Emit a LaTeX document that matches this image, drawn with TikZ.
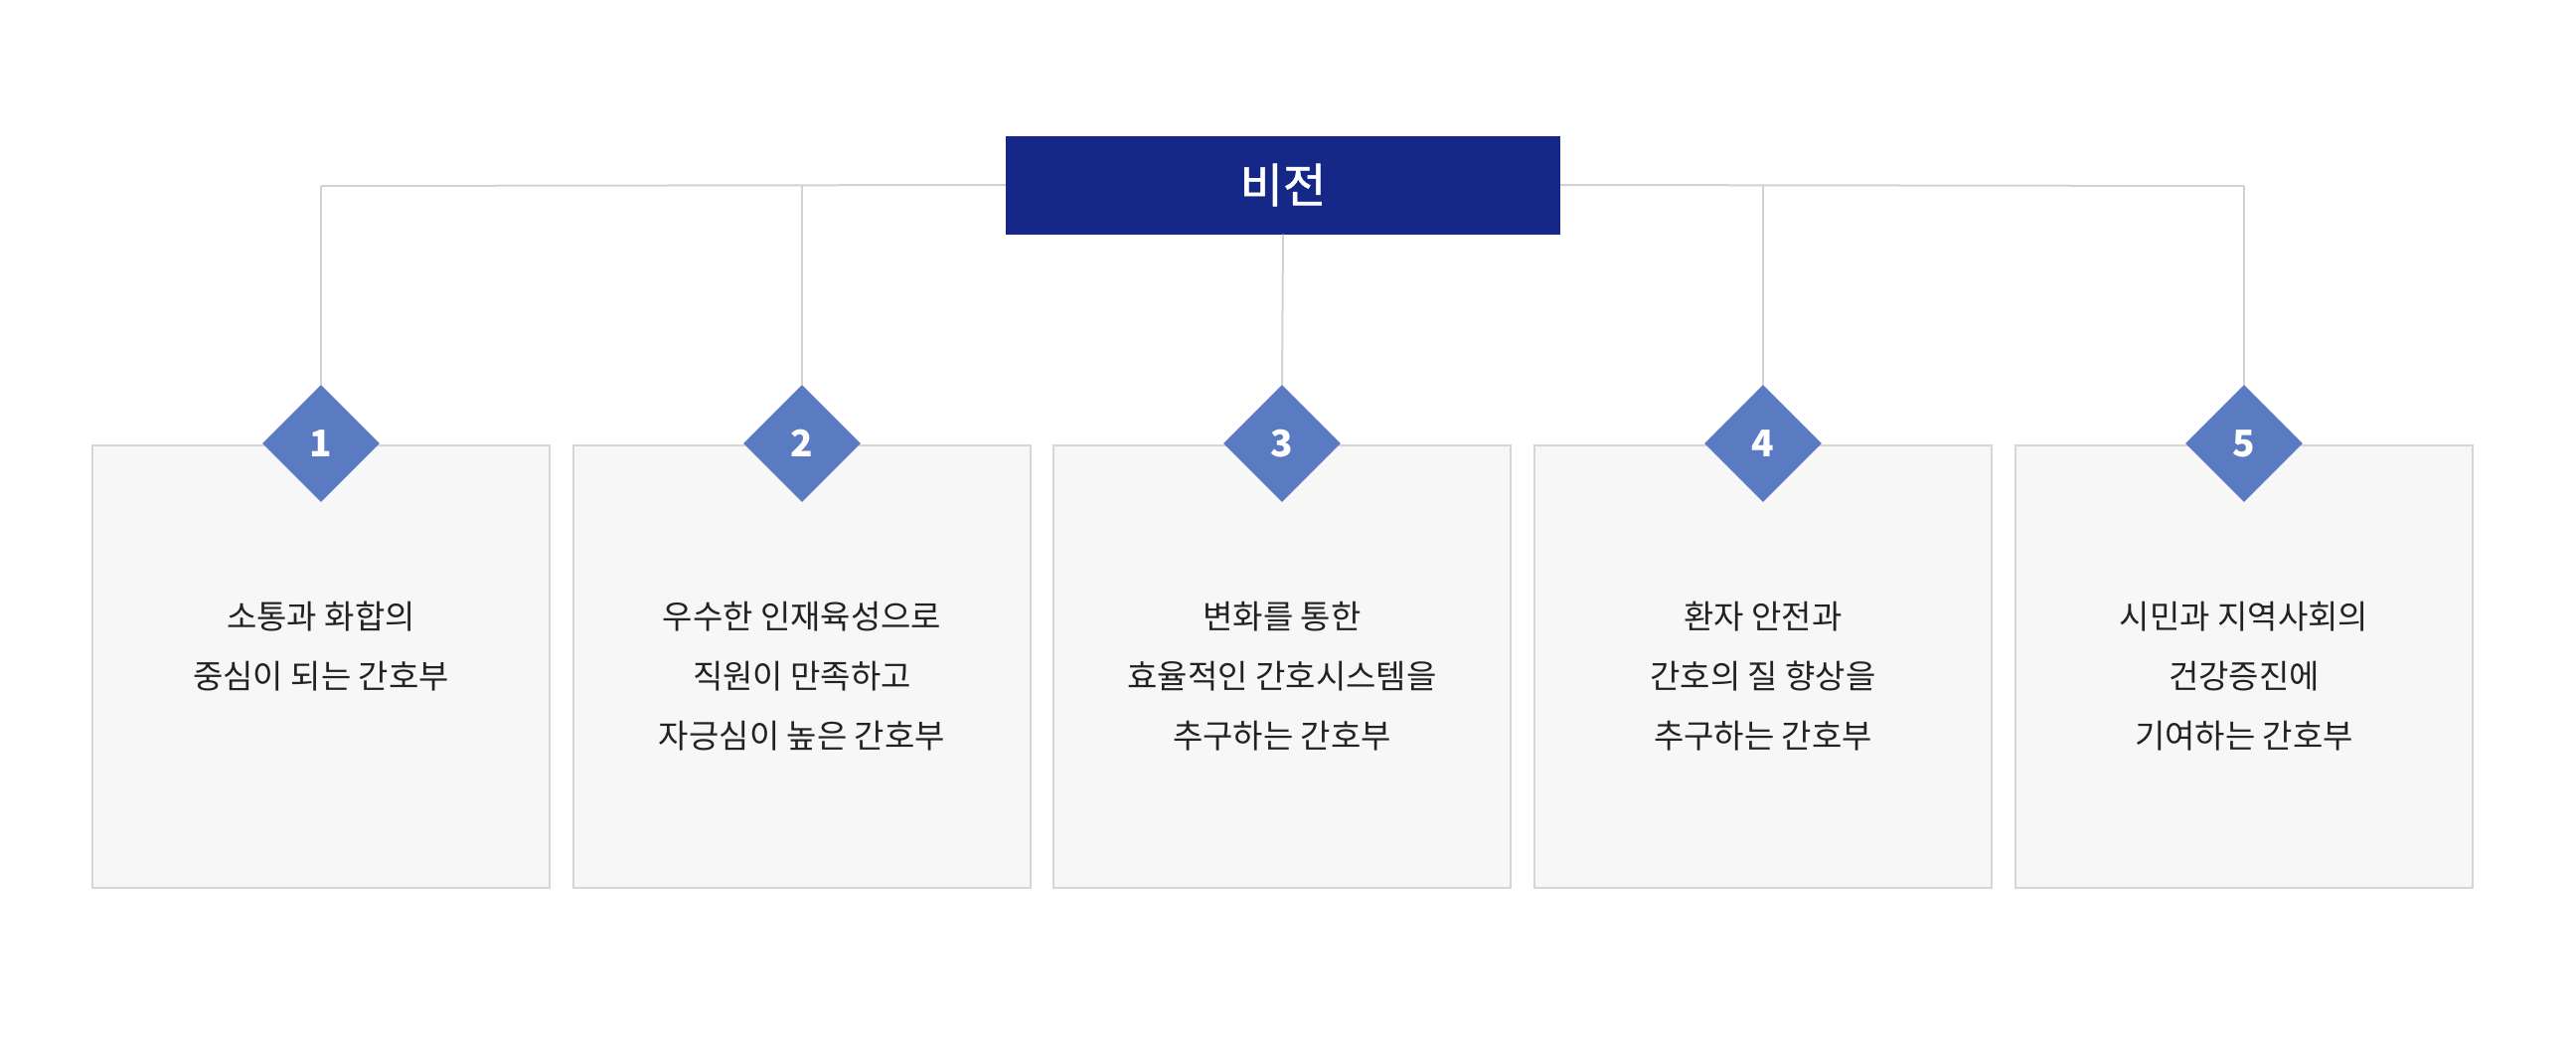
\documentclass[tikz,border=0pt]{standalone}
\usepackage{fontspec}
\setmainfont{Noto Sans CJK KR}
\newfontfamily\visfont[FakeBold=1.2]{Noto Sans CJK KR}
\usetikzlibrary{shapes.geometric}
\definecolor{navy}{HTML}{152888}
\definecolor{dia}{HTML}{5A7AC2}
\definecolor{boxfill}{HTML}{F7F7F7}
\definecolor{boxline}{HTML}{D6D6D6}
\definecolor{conn}{HTML}{D2D2D2}
\definecolor{txt}{HTML}{222222}
\tikzset{
  card/.style={draw=boxline, fill=boxfill, line width=2pt, minimum width=460pt, minimum height=445pt, inner sep=0pt, anchor=north},
  num/.style={diamond, aspect=1, fill=dia, draw=none, minimum width=118pt, minimum height=118pt, inner sep=0pt, text=white, font=\fontsize{37pt}{37pt}\selectfont\bfseries},
  conline/.style={draw=conn, line width=2pt},
  ln/.style={anchor=base, inner sep=0pt, text=txt, font=\fontsize{33pt}{33pt}\selectfont},
  vis/.style={fill=navy, minimum width=558pt, minimum height=99pt, inner sep=0pt, text=white, font=\fontsize{47pt}{47pt}\visfont}
}
\begin{document}
\begin{tikzpicture}[x=1pt,y=-1pt]
\useasboundingbox (0,0) rectangle (2592,1042);
% cards
\node[card] (b1) at (323,447) {};
\node[card] (b2) at (807,447) {};
\node[card] (b3) at (1290,447) {};
\node[card] (b4) at (1774,447) {};
\node[card] (b5) at (2258,447) {};
% vision
\node[vis] (v) at (1291,186) {비전};
% connector coordinates
\coordinate (h1) at (323,187);
\coordinate (h2) at (807,187);
\coordinate (h4) at (1774,187);
\coordinate (h5) at (2258,187);
% diamonds
\node[num] (d1) at (323,446) {1};
\node[num] (d2) at (807,446) {2};
\node[num] (d3) at (1290,446) {3};
\node[num] (d4) at (1774,446) {4};
\node[num] (d5) at (2258,446) {5};
% connectors
\draw[conline] (h1) -- (v.west);
\draw[conline] (v.east) -- (h5);
\draw[conline] (h1) -- (d1.north);
\draw[conline] (h2) -- (d2.north);
\draw[conline] (v.south) -- (d3.north);
\draw[conline] (h4) -- (d4.north);
\draw[conline] (h5) -- (d5.north);
% texts
\node[ln] (t1a) at (323,632) {소통과 화합의};
\node[ln] (t1b) at (323,692) {중심이 되는 간호부};
\node[ln] (t2a) at (807,632) {우수한 인재육성으로};
\node[ln] (t2b) at (807,692) {직원이 만족하고};
\node[ln] (t2c) at (807,752) {자긍심이 높은 간호부};
\node[ln] (t3a) at (1290,632) {변화를 통한};
\node[ln] (t3b) at (1290,692) {효율적인 간호시스템을};
\node[ln] (t3c) at (1290,752) {추구하는 간호부};
\node[ln] (t4a) at (1774,632) {환자 안전과};
\node[ln] (t4b) at (1774,692) {간호의 질 향상을};
\node[ln] (t4c) at (1774,752) {추구하는 간호부};
\node[ln] (t5a) at (2258,632) {시민과 지역사회의};
\node[ln] (t5b) at (2258,692) {건강증진에};
\node[ln] (t5c) at (2258,752) {기여하는 간호부};
\end{tikzpicture}
\end{document}
